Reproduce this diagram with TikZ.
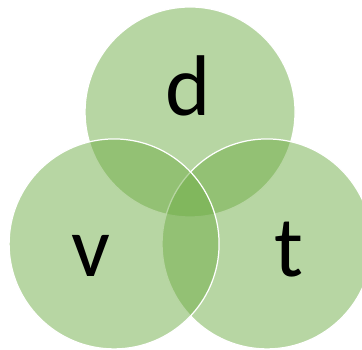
\documentclass[tikz,border=0pt]{standalone}
\usepackage{fontspec}
\setsansfont{Carlito}
\definecolor{setgreen}{RGB}{112,173,71}
\tikzset{
  setdisk/.style={fill=setgreen, fill opacity=0.5, draw=white, line width=1pt},
  setname/.style={font=\sffamily\fontsize{70}{70}\selectfont, anchor=base, inner sep=0pt}
}
\begin{document}
\begin{tikzpicture}
  \useasboundingbox (0,0) rectangle (10.343,10);
  \draw[setdisk] (5.43,6.80) circle (3);
  \draw[setdisk] (7.63,3.03) circle (3);
  \draw[setdisk] (3.26,3.03) circle (3);
  \node[setname] (d) at (5.37,6.69) {d};
  \node[setname] (v) at (2.60,2.09) {v};
  \node[setname] (t) at (8.26,2.09) {t};
\end{tikzpicture}
\end{document}
